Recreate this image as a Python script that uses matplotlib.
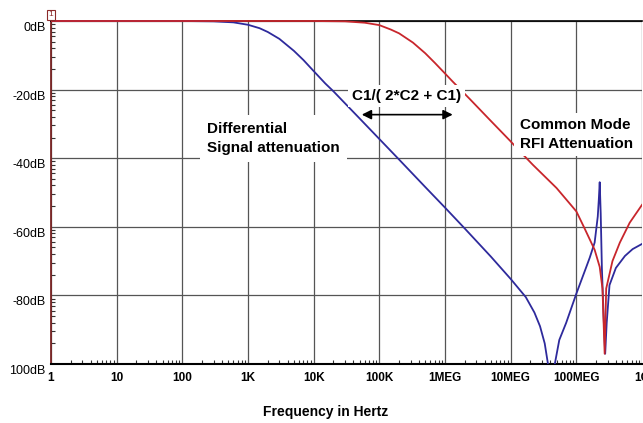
import matplotlib
matplotlib.use("Agg")
import matplotlib.pyplot as plt
import matplotlib.transforms as mtransforms
from matplotlib.patches import Rectangle
import numpy as np

plt.rcParams["font.family"] = ["Liberation Sans", "DejaVu Sans"]

# 차동 신호 (파란색) - 주파수(Hz), 감쇠(dB)
diff_freq = [1, 100, 300, 600, 1e3, 1.5e3, 2e3, 3e3, 5e3, 7e3, 1e4, 1.5e4, 2e4,
             3e4, 5e4, 1e5, 2e5, 5e5, 1e6, 2e6, 5e6, 1e7, 1.7e7, 2.3e7, 2.8e7,
             3.3e7, 3.7e7, 4.1e7, 4.7e7, 5.5e7, 7e7, 1e8, 1.4e8, 1.6e8, 1.9e8,
             2.12e8, 2.2e8, 2.27e8, 2.35e8, 2.45e8, 2.6e8, 2.75e8, 2.9e8, 3.2e8,
             4e8, 5.5e8, 7.2e8, 1e9]
diff_db = [0, 0, -0.1, -0.4, -1.1, -2.1, -3.2, -5.2, -8.7, -11.4, -14.6, -18.2,
           -20.5, -24.0, -28.4, -34.4, -40.4, -48.4, -54.4, -60.5, -68.7, -75.2,
           -80.5, -85, -89, -94, -100, -112, -100, -93, -88, -79.5, -72, -69,
           -64.6, -57, -52, -47, -56, -72, -86, -97, -88, -77, -72, -68.5,
           -66.5, -65]

# 공통 모드 (빨간색)
cm_freq = [1, 1e4, 3e4, 6e4, 1e5, 1.5e5, 2e5, 3.25e5, 5e5, 7e5, 1e6, 1.3e6,
           2.4e6, 4.8e6, 1e7, 1.29e7, 2.17e7, 5e7, 1e8, 1.3e8, 1.9e8, 2.27e8,
           2.5e8, 2.7e8, 2.85e8, 3.55e8, 4.6e8, 6.5e8, 1e9]
cm_db = [0, 0, -0.1, -0.5, -1.2, -2.5, -3.6, -6.3, -9.4, -12.2, -15.3, -17.6,
         -22.8, -28.8, -35.1, -37.4, -41.9, -48.7, -55.5, -60, -66.7, -71.7,
         -78, -97, -78, -70, -64.6, -58.8, -53.6]

x_ticks = [1, 10, 100, 1e3, 1e4, 1e5, 1e6, 1e7, 1e8, 1e9]
x_labels = ["1", "10", "100", "1K", "10K", "100K", "1MEG", "10MEG", "100MEG", "1G"]
y_ticks = [0, -20, -40, -60, -80, -100]
y_labels = ["0dB", "-20dB", "-40dB", "-60dB", "-80dB", "100dB"]

W, H = 643, 423
fig = plt.figure(figsize=(W / 100, H / 100), dpi=100)
ax = fig.add_axes([51 / W, (H - 364) / H, (642 - 51) / W, (364 - 21) / H])

ax.set_xscale("log")
ax.set_xlim(1, 1e9)
ax.set_ylim(-100, 0)

# 0dB 선이 잘리지 않도록 위쪽으로 조금 넓힌 클립 영역
clip = Rectangle((0, 0), 1, 1.02, transform=ax.transAxes, visible=False)
ax.add_patch(clip)
l1, = ax.plot(diff_freq, diff_db, color="#2e2a9c", lw=1.3, zorder=3)
l2, = ax.plot(cm_freq, cm_db, color="#c8262c", lw=1.3, zorder=4)
l1.set_clip_path(clip)
l2.set_clip_path(clip)

ax.set_xticks(x_ticks)
ax.set_xticklabels(x_labels, fontsize=8.5, fontweight="bold")
ax.set_yticks(y_ticks)
ax.set_yticklabels(y_labels, fontsize=9)
ax.tick_params(axis="both", which="major", length=0, pad=6)
ax.tick_params(axis="y", pad=4)

# 작은 눈금 (아래쪽은 위로, 왼쪽은 오른쪽으로)
minor_x = [k * 10 ** d for d in range(9) for k in range(2, 10)]
ax.set_xticks(minor_x, minor=True)
minor_y = [-20 * i - 20 * (1 - np.log10(k)) for i in range(5) for k in range(2, 10)]
ax.set_yticks(minor_y, minor=True)
ax.tick_params(which="minor", direction="in", length=3, width=0.8, color="#333333")
ax.xaxis.set_minor_formatter(plt.NullFormatter())
ax.yaxis.set_minor_formatter(plt.NullFormatter())

# y 라벨은 격자선보다 약간 아래
offset = mtransforms.ScaledTranslation(0, -4 / 72, fig.dpi_scale_trans)
for lab in ax.get_yticklabels():
    lab.set_transform(lab.get_transform() + offset)

ax.grid(True, which="major", color="#555555", lw=0.9)
ax.set_axisbelow(True)

ax.spines["right"].set_visible(False)
ax.spines["bottom"].set_linewidth(1.5)
ax.spines["top"].set_linewidth(1.2)
ax.spines["left"].set_color("#7a2424")
ax.spines["left"].set_linewidth(1.3)

# 주석 텍스트 (흰 배경으로 격자선을 가림)
ax.text(2.6e5, -21.8, "C1/( 2*C2 + C1)", fontsize=11, fontweight="bold",
        ha="center", va="center", bbox=dict(facecolor="white", edgecolor="none", pad=3),
        zorder=5)
ax.annotate("", xy=(5.4e4, -27.3), xytext=(1.31e6, -27.3),
            arrowprops=dict(arrowstyle="<|-|>", color="black", lw=1.2,
                            mutation_scale=14, shrinkA=0, shrinkB=0), zorder=5)
ax.text(237, -34.3, "Differential\nSignal attenuation", fontsize=11,
        fontweight="bold", ha="left", va="center", linespacing=1.45,
        bbox=dict(facecolor="white", edgecolor="none", pad=5), zorder=5)
ax.text(1.38e7, -33.1, "Common Mode\nRFI Attenuation", fontsize=11,
        fontweight="bold", ha="left", va="center", linespacing=1.4,
        bbox=dict(facecolor="white", edgecolor="none", pad=4), zorder=5)

# 마커 "1"
ax.text(1, 0, "1", fontsize=6, color="#8b2a2a", ha="center", va="bottom",
        transform=ax.transData + mtransforms.ScaledTranslation(0, 2 / 72, fig.dpi_scale_trans),
        bbox=dict(facecolor="white", edgecolor="#8b2a2a", pad=1.2, lw=0.8),
        clip_on=False, zorder=6)

fig.text(326 / W, 1 - 412 / H, "Frequency in Hertz", fontsize=10,
         fontweight="bold", ha="center", va="center")

fig.savefig("out.png", dpi=100)
